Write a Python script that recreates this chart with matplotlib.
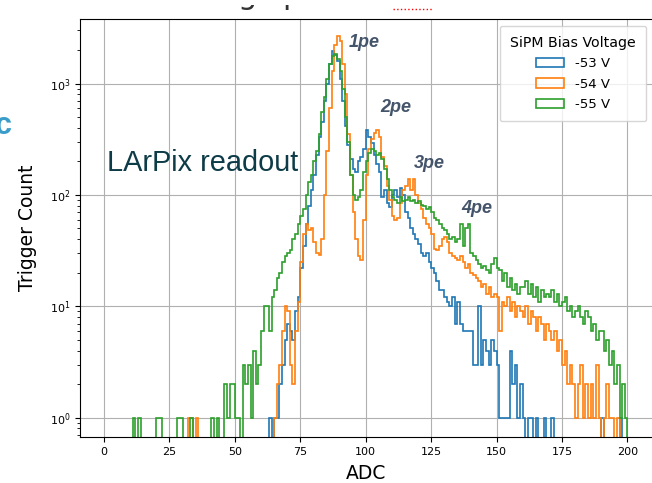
import numpy as np
import matplotlib
matplotlib.use("Agg")
import matplotlib.pyplot as plt
from matplotlib.lines import Line2D
from matplotlib.transforms import Bbox, TransformedBbox

# counts per 1-ADC bin (first bin starts at *_start)
blue_start = 63
blue_counts = [
    1, 0, 1, 1, 2, 3, 5, 7, 6, 5, 9, 12, 22, 35, 55, 80, 110,          # 63-79
    150, 230, 330, 450, 700, 1000, 1500, 1950, 1800, 1600,              # 80-89
    1100, 700, 420, 280, 210, 170, 160, 200, 220, 260,                  # 90-99
    380, 330, 290, 230, 190, 160, 95, 110, 85, 78,                      # 100-109
    100, 110, 95, 115, 100, 70, 62, 50, 45, 40,                         # 110-119
    36, 30, 28, 30, 25, 22, 20, 17, 14, 14,                             # 120-129
    12, 11, 10, 12, 7, 11, 7, 6, 6, 6,                                  # 130-139
    6, 3, 3, 10, 3, 5, 4, 3, 5, 4,                                      # 140-149
    3, 1, 1, 1, 1, 4, 2, 3, 1, 2,                                       # 150-159
    1, 0, 1, 1, 0, 1, 0, 0, 1, 0,                                       # 160-169
    0, 1, 0, 0, 0, 0, 0, 0, 0, 0,                                       # 170-179
    0, 0, 0, 0, 0, 0, 0, 0, 0, 0,                                       # 180-189
    1, 0, 0, 0, 0, 0, 0, 1,                                             # 190-197
]

orange_start = 32
orange_counts = [
    1, 1, 0, 1, 0, 0, 0, 0,                                             # 32-39
    0, 0, 0, 0, 0, 0, 0, 0, 0, 0,                                       # 40-49
    0, 0, 0, 0, 0, 0, 0, 0, 0, 0,                                       # 50-59
    0, 0, 0, 0, 0, 1, 2, 3, 6, 10,                                      # 60-69
    9, 3, 2, 6, 11, 25, 45, 55, 48, 50,                                 # 70-79
    38, 30, 29, 40, 100, 250, 600, 1300, 2200, 2700,                    # 80-89
    2400, 1500, 800, 350, 150, 70, 40, 28, 26, 60,                      # 90-99
    150, 260, 320, 360, 380, 330, 220, 180, 120, 90,                    # 100-109
    65, 60, 62, 85, 110, 120, 140, 110, 140, 100,                       # 110-119
    85, 75, 62, 55, 50, 45, 33, 32, 35, 40,                             # 120-129
    42, 38, 30, 28, 27, 26, 28, 25, 22, 24,                             # 130-139
    20, 19, 18, 17, 15, 16, 13, 15, 12, 13,                             # 140-149
    12, 6, 11, 10, 12, 9, 11, 8, 10, 9,                                 # 150-159
    8, 10, 7, 9, 8, 6, 8, 7, 5, 7,                                      # 160-169
    6, 5, 6, 4, 5, 3, 4, 2, 3, 2,                                       # 170-179
    1, 2, 3, 1, 2, 1, 2, 1, 3, 1,                                       # 180-189
    0, 1, 2, 1, 1, 0, 1,                                                # 190-196
]

green_start = 11
green_counts = [
    1, 0, 1, 0, 0, 0, 0, 0, 0,                                          # 11-19
    1, 1, 0, 0, 0, 0, 0, 0, 1, 1,                                       # 20-29
    0, 0, 0, 1, 0, 0, 0, 0, 0, 0,                                       # 30-39
    0, 1, 0, 1, 0, 0, 2, 1, 2, 2,                                       # 40-49
    1, 1, 0, 3, 2, 3, 1, 4, 2, 3,                                       # 50-59
    6, 10, 10, 6, 12, 14, 18, 20, 25, 28,                               # 60-69
    30, 32, 40, 45, 55, 65, 75, 100, 130, 150,                          # 70-79
    200, 250, 350, 550, 750, 1100, 1500, 1750, 1850, 1650,              # 80-89
    1300, 900, 500, 300, 150, 100, 90, 95, 110, 160,                    # 90-99
    200, 240, 260, 250, 230, 240, 210, 170, 140, 110,                   # 100-109
    95, 90, 85, 95, 88, 90, 95, 88, 90, 85,                             # 110-119
    88, 82, 80, 75, 78, 70, 62, 60, 55, 50,                             # 120-129
    48, 45, 40, 42, 38, 40, 55, 35, 50, 55,                             # 130-139
    30, 28, 26, 24, 22, 23, 21, 20, 24, 27,                             # 140-149
    22, 21, 17, 20, 15, 18, 14, 16, 13, 15,                             # 150-159
    15, 17, 13, 16, 12, 15, 11, 14, 12, 13,                             # 160-169
    12, 14, 11, 13, 10, 11, 12, 9, 10, 8,                               # 170-179
    9, 10, 8, 7, 9, 8, 6, 7, 5, 6,                                      # 180-189
    6, 4, 5, 3, 4, 2, 3, 1, 2, 1,                                       # 190-199
]

series = [
    ("-53 V", blue_start, blue_counts, "tab:blue"),
    ("-54 V", orange_start, orange_counts, "tab:orange"),
    ("-55 V", green_start, green_counts, "tab:green"),
]

pe_labels = ["1pe", "2pe", "3pe", "4pe"]
pe_x = [349, 380, 414, 461]      # pixel positions of the slide annotations
pe_y = [47, 112, 168, 213]

W, H = 652, 483
fig = plt.figure(figsize=(W / 100, H / 100), dpi=100)
ax = fig.add_axes([80 / W, 1 - 437 / H, 573 / W, (437 - 19) / H])

for label, start, counts, color in series:
    edges = start + np.arange(len(counts) + 1)
    ax.hist(edges[:-1], bins=edges, weights=counts, histtype="step",
            color=color, lw=1.2, label=label)

ax.set_yscale("log", nonpositive="clip")
ax.set_ylim(0.67, 3800)
ax.set_xlim(-9.2, 209.8)
ax.set_xticks(np.arange(0, 201, 25))
ax.grid(True, color="#b0b0b0", lw=0.8)
ax.set_axisbelow(True)
ax.tick_params(labelsize=8)
ax.set_xlabel("ADC", fontsize=13.5, labelpad=5)
ax.set_ylabel("Trigger Count", fontsize=13.5, labelpad=9)

ax.legend(title="SiPM Bias Voltage", loc="upper right", fontsize=9.5,
          title_fontsize=10.2, handlelength=2.1, labelspacing=0.55,
          borderpad=0.8, borderaxespad=0.5)

# slide overlays
for t, px, py in zip(pe_labels, pe_x, pe_y):
    fig.text(px / W, 1 - py / H, t, fontsize=13, family="Liberation Sans",
             weight="bold", style="italic", color="#44546a", va="baseline")

fig.text(107 / W, 1 - 171 / H, "LArPix readout", fontsize=20.8,
         family="Liberation Sans", color="#0d3b47", va="baseline")
fig.text(12 / W, 1 - 134 / H, "c", fontsize=22, family="Liberation Sans",
         weight="bold", color="#3a9cc9", ha="right", va="baseline")

# remnants of the slide title above the plot: only descenders show
clip = TransformedBbox(Bbox([[0, 0], [1, 1 - 5 / H]]), fig.transFigure)
for t, px in zip(["g", "p"], [247, 292]):
    txt = fig.text(px / W, 1 - 4 / H, t, fontsize=22, color="#333333",
                   ha="center", va="baseline")
    txt.set_clip_box(clip)
    txt.set_clip_on(True)
fig.add_artist(Line2D([393 / W, 433 / W], [1 - 9 / H, 1 - 9 / H],
                      color="red", lw=1, ls=":"))

fig.savefig("out.png", dpi=100)
